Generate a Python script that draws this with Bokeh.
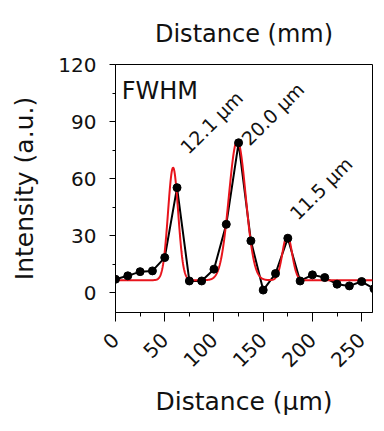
import numpy as np
from math import pi
from bokeh.plotting import figure
from bokeh.models import FixedTicker, Label, Range1d, Title
from bokeh.embed import file_html
from bokeh.resources import INLINE

# measured profile (black)
distance_um = [0, 12.5, 25, 37.5, 50, 62.5, 75, 87.5, 100, 112.5, 125, 137.5,
               150, 162.5, 175, 187.5, 200, 212.5, 225, 237.5, 250, 262.5]
intensity = [7.0, 8.8, 11.0, 11.4, 18.4, 55.2, 6.1, 6.1, 12.3, 35.9, 78.8, 27.2,
             1.3, 10.0, 28.6, 6.1, 9.3, 7.9, 4.4, 3.5, 5.8, 2.0]

# Gaussian fit parameters (red)
fit_baseline = 6.5
fit_centers = [58.5, 123.7, 174.4]
fit_amplitudes = [59.2, 73.5, 23.6]
fit_fwhm = [12.1, 20.0, 11.5]
fwhm_labels = ["12.1 µm", "20.0 µm", "11.5 µm"]

x_ticks = [0, 50, 100, 150, 200, 250]
x_minor = [25, 75, 125, 175, 225]
y_ticks = [0, 30, 60, 90, 120]
y_minor = [15, 45, 75, 105]

FONT = "DejaVu Sans"
W, H = 376, 423

xf = np.linspace(0, 261, 800)
yf = np.full_like(xf, fit_baseline)
for c, a, w in zip(fit_centers, fit_amplitudes, fit_fwhm):
    s = w / (2 * np.sqrt(2 * np.log(2)))
    yf += a * np.exp(-0.5 * ((xf - c) / s) ** 2)

p = figure(width=W, height=H, output_backend="svg", toolbar_location=None,
           x_range=Range1d(0, 261), y_range=Range1d(-10.5, 120),
           min_border_left=115, min_border_right=4, min_border_top=63,
           min_border_bottom=111)
p.grid.visible = False
p.outline_line_color = "black"
p.outline_line_width = 1
p.background_fill_color = "white"
p.border_fill_color = "white"

# x-label of the panel above, which the reference shows cut at the top edge
p.add_layout(Title(text="Distance (mm)", align="center", text_font=FONT,
                   text_font_size="24px", text_font_style="normal",
                   text_color="#111111", text_line_height=0.5, standoff=34,
                   offset=0), "above")

p.line(distance_um, intensity, line_color="black", line_width=2)
p.line(xf, yf, line_color="#e8141c", line_width=2)
p.scatter(distance_um, intensity, size=8, fill_color="black", line_color="black")

for ax in (p.xaxis[0], p.yaxis[0]):
    ax.axis_line_color = "black"
    ax.major_tick_line_color = "black"
    ax.minor_tick_line_color = "black"
    ax.major_tick_in = 0
    ax.minor_tick_in = 0
    ax.major_label_text_font = FONT
    ax.major_label_text_font_size = "20px"
    ax.major_label_text_color = "#111111"
    ax.axis_label_text_font = FONT
    ax.axis_label_text_font_size = "25px"
    ax.axis_label_text_font_style = "normal"
    ax.axis_label_text_color = "#111111"

p.xaxis.ticker = FixedTicker(ticks=x_ticks, minor_ticks=x_minor)
p.yaxis.ticker = FixedTicker(ticks=y_ticks, minor_ticks=y_minor)
p.xaxis.major_tick_out = 9
p.xaxis.minor_tick_out = 4
p.yaxis.major_tick_out = 6
p.yaxis.minor_tick_out = 3
p.xaxis.major_label_orientation = pi / 4
p.xaxis.major_label_standoff = 15
p.yaxis.major_label_standoff = 13
p.xaxis.axis_label = "Distance (µm)"
p.yaxis.axis_label = "Intensity (a.u.)"
p.xaxis.axis_label_standoff = 11
p.yaxis.axis_label_standoff = 16

p.add_layout(Label(x=6.3, y=106.2, text="FWHM", text_font=FONT, text_font_size="24px",
                   text_color="#111111", text_baseline="alphabetic"))

ann_pos = [(69.2, 74.8), (131.3, 79.3), (180.3, 40.1)]
for (ax_, ay_), t in zip(ann_pos, fwhm_labels):
    p.add_layout(Label(x=ax_, y=ay_, text=t, angle=pi / 4, text_font=FONT,
                       text_font_size="19px", text_color="#111111",
                       text_align="left", text_baseline="alphabetic"))

open("out.html", "w").write(file_html(p, INLINE))
